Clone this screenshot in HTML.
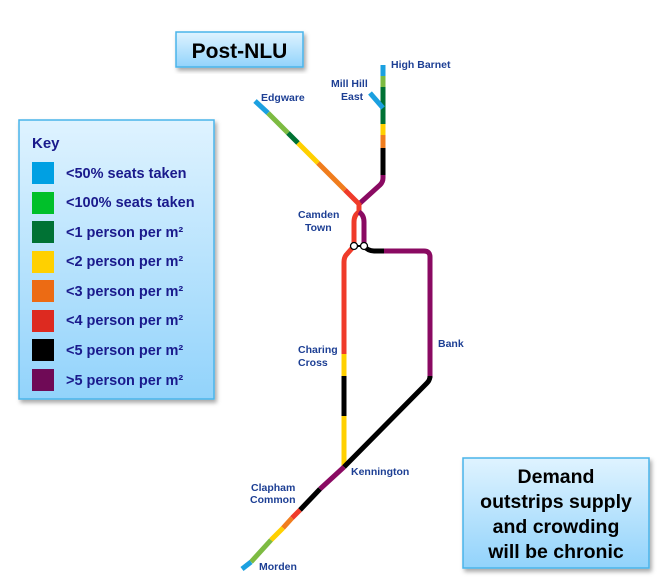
<!DOCTYPE html>
<html><head><meta charset="utf-8"><style>
html,body{margin:0;padding:0;background:#fff;width:659px;height:585px;overflow:hidden}
</style></head><body>
<svg width="659" height="585" viewBox="0 0 659 585" xmlns="http://www.w3.org/2000/svg" style="font-family:'Liberation Sans',sans-serif">
<defs>
<linearGradient id="bg" x1="0" y1="0" x2="0" y2="1"><stop offset="0" stop-color="#dff3ff"/><stop offset="1" stop-color="#92d3fb"/></linearGradient>
<filter id="sh" x="-10%" y="-10%" width="130%" height="130%"><feDropShadow dx="2" dy="3" stdDeviation="2" flood-color="#000" flood-opacity="0.35"/></filter>
</defs>
<rect x="176" y="32" width="127" height="35" fill="url(#bg)" stroke="#4ab4ea" stroke-width="1.5" filter="url(#sh)"/>
<text x="239.5" y="58" text-anchor="middle" font-size="21" font-weight="bold" fill="#000">Post-NLU</text>
<rect x="19" y="120" width="195" height="279" fill="url(#bg)" stroke="#4ab4ea" stroke-width="1.5" filter="url(#sh)"/>
<text x="32" y="148" font-size="15" font-weight="bold" fill="#1a1a8c">Key</text>
<g font-size="14.5" font-weight="bold" fill="#1a1a8c">
<rect x="32" y="162" width="22" height="22" fill="#00a0e3"/><text x="66" y="178">&lt;50% seats taken</text>
<rect x="32" y="192" width="22" height="22" fill="#00c02a"/><text x="66" y="207">&lt;100% seats taken</text>
<rect x="32" y="221" width="22" height="22" fill="#007234"/><text x="66" y="237">&lt;1 person per m²</text>
<rect x="32" y="251" width="22" height="22" fill="#ffd000"/><text x="66" y="266">&lt;2 person per m²</text>
<rect x="32" y="280" width="22" height="22" fill="#ec6b14"/><text x="66" y="296">&lt;3 person per m²</text>
<rect x="32" y="310" width="22" height="22" fill="#dd2a20"/><text x="66" y="325">&lt;4 person per m²</text>
<rect x="32" y="339" width="22" height="22" fill="#000"/><text x="66" y="355">&lt;5 person per m²</text>
<rect x="32" y="369" width="22" height="22" fill="#6f0a56"/><text x="66" y="385">&gt;5 person per m²</text>
</g>
<rect x="463" y="458" width="186" height="110" fill="url(#bg)" stroke="#4ab4ea" stroke-width="1.5" filter="url(#sh)"/>
<g font-size="19.5" font-weight="bold" fill="#000" text-anchor="middle">
<text x="556" y="483">Demand</text><text x="556" y="508">outstrips supply</text><text x="556" y="533">and crowding</text><text x="556" y="558">will be chronic</text>
</g>
<g fill="none" stroke-width="5" stroke-linecap="butt">
<!-- High Barnet branch -->
<line x1="383" y1="65" x2="383" y2="76" stroke="#1ba0e0"/>
<line x1="383" y1="76" x2="383" y2="87" stroke="#7dbb42"/>
<line x1="383" y1="87" x2="383" y2="124" stroke="#007234"/>
<line x1="383" y1="124" x2="383" y2="135" stroke="#ffd000"/>
<line x1="383" y1="135" x2="383" y2="148" stroke="#f07d1e"/>
<line x1="383" y1="148" x2="383" y2="175" stroke="#000"/>
<path d="M383 175 L383 178 Q383 182 380 185 L359 204" stroke="#8a0a62"/>
<line x1="370" y1="93" x2="383" y2="108" stroke="#1ba0e0"/>
<!-- Edgware -->
<line x1="255" y1="101" x2="268" y2="113" stroke="#1ba0e0"/>
<line x1="268" y1="113" x2="288" y2="133" stroke="#7dbb42"/>
<line x1="288" y1="133" x2="298" y2="143" stroke="#007234"/>
<line x1="298" y1="143" x2="318" y2="163" stroke="#ffd000"/>
<line x1="318" y1="163" x2="345" y2="190" stroke="#f07d1e"/>
<line x1="345" y1="190" x2="359" y2="204" stroke="#ef3b2a"/>
<line x1="359" y1="203" x2="359" y2="212" stroke="#ef3b2a"/>
<!-- Camden loop -->
<path d="M359 212 Q354 215 354 222 L354 246" stroke="#ef3b2a"/>
<path d="M359 212 Q364 215 364 222 L364 246" stroke="#8a0a62"/>
<!-- Charing Cross branch -->
<path d="M354 246 L347 254 Q344 257 344 262 L344 354" stroke="#ef3b2a"/>
<line x1="344" y1="354" x2="344" y2="376" stroke="#ffd000"/>
<line x1="344" y1="376" x2="344" y2="416" stroke="#000"/>
<line x1="344" y1="416" x2="344" y2="467" stroke="#ffd000"/>
<!-- Bank branch -->
<path d="M364 246 Q368 251 374 251 L384 251" stroke="#000"/>
<path d="M384 251 L424 251 Q430 251 430 257 L430 378" stroke="#8a0a62"/>
<path d="M430 376 Q430 380 427 383 L344 467" stroke="#000"/>
<!-- Southern -->
<line x1="344" y1="467" x2="320" y2="489" stroke="#8a0a62"/>
<line x1="320" y1="489" x2="300" y2="510" stroke="#000"/>
<line x1="300" y1="510" x2="292" y2="518" stroke="#ef3b2a"/>
<line x1="292" y1="518" x2="283" y2="528" stroke="#f07d1e"/>
<line x1="283" y1="528" x2="271" y2="540" stroke="#ffd000"/>
<line x1="271" y1="540" x2="251" y2="562" stroke="#7dbb42"/>
<line x1="251" y1="562" x2="242" y2="569" stroke="#1ba0e0"/>
</g>
<line x1="354" y1="246" x2="364" y2="246" stroke="#000" stroke-width="2"/>
<circle cx="354" cy="246" r="3.5" fill="#fff" stroke="#000" stroke-width="1.3"/>
<circle cx="364" cy="246" r="3.5" fill="#fff" stroke="#000" stroke-width="1.3"/>
<g font-size="10.5" font-weight="bold" fill="#1d3f94">
<text x="391" y="68">High Barnet</text>
<text x="331" y="87">Mill Hill</text><text x="341" y="100">East</text>
<text x="261" y="101">Edgware</text>
<text x="298" y="218">Camden</text><text x="305" y="231">Town</text>
<text x="298" y="353">Charing</text><text x="298" y="366">Cross</text>
<text x="438" y="347">Bank</text>
<text x="351" y="475">Kennington</text>
<text x="251" y="491">Clapham</text><text x="250" y="503">Common</text>
<text x="259" y="570">Morden</text>
</g>
</svg>
</body></html>
